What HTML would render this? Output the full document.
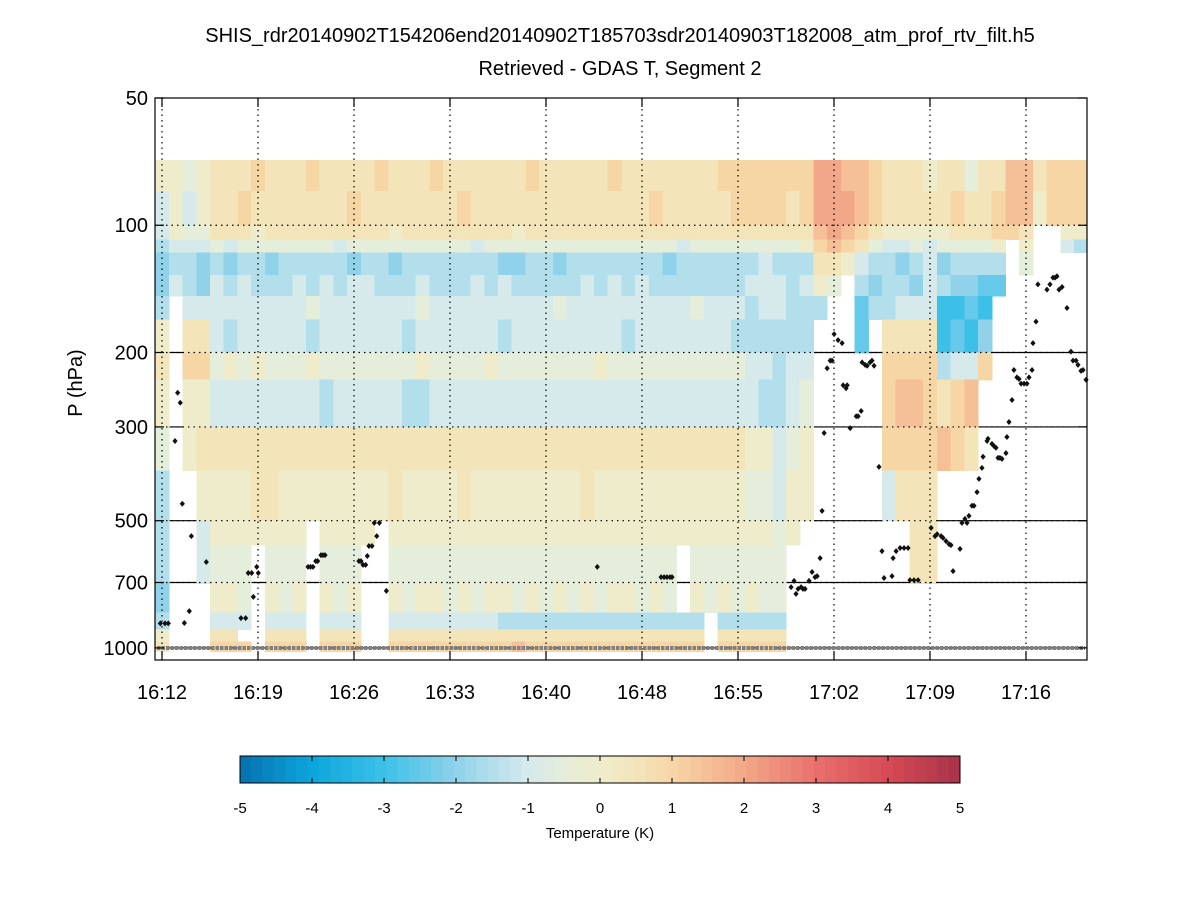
<!DOCTYPE html>
<html><head><meta charset="utf-8">
<style>
html,body{margin:0;padding:0;background:#fff;}
svg{display:block;font-family:"Liberation Sans",sans-serif;}
</style></head>
<body>
<svg id="chart" width="1200" height="900" viewBox="0 0 1200 900" xmlns="http://www.w3.org/2000/svg">
<rect width="1200" height="900" fill="#fff"/>
<text x="620" y="42" font-size="20" text-anchor="middle">SHIS_rdr20140902T154206end20140902T185703sdr20140903T182008_atm_prof_rtv_filt.h5</text>
<text x="620" y="75" font-size="20" text-anchor="middle">Retrieved - GDAS T, Segment 2</text>
<text x="0" y="0" font-size="20" text-anchor="middle" transform="translate(82,383) rotate(-90)">P (hPa)</text>
<g id="solidGrid"></g>
<g id="heat" shape-rendering="crispEdges"></g>
<g id="dotGrid"></g>
<g id="marks"></g>
<g id="axes"></g>
<g id="cbar"></g>
<text x="600" y="838" font-size="15" text-anchor="middle">Temperature (K)</text>
</svg>
<script>
// ---- data ----
const pressureEdges = [70,83,100,108,116,131,147,167,200,232,300,380,500,570,700,825,905,965,1020];
const yTickValues = [50,100,200,300,500,700,1000];
const yTickLabels = ["50","100","200","300","500","700","1000"];
const xTickMinutes = [0,7,14,21,28,35,42,49,56,63];
const xTickLabels = ["16:12","16:19","16:26","16:33","16:40","16:48","16:55","17:02","17:09","17:16"];
// temperature difference grid: one string per pressure layer, one char per minute column (0..67)
// code: '0'=-5 ... 'A'=0 ... 'K'=+5 in 0.5 K steps, '.' = no data
const tempRows = [
 "AA9A"+"BBBCBBBCBBBBCBBBCBBBBBBCBBBBBCBBBBBBBCCCCC"+"CCEEDDCBBBABB9BBDDBCCC",
 "8A8A"+"BBCBBBBBBBCBBBBBBBCBBBBBBBBBBBBBCBBBBBCCCC"+"BCEEEDCBBBBBCBBCDDACCC",
 "8A99"+"BBBABBBBBBBBBABBBBBBBBABBBBBBBBBBBBBBBBBBB"+"BBDEDCBAAAAABBBCCB..AA",
 "7888"+"989999999899999999989999999999999989999999"+"9ACDCB988989999A.A..87",
 "6776"+"767767777767767777777667767777777677777787"+"77BBA87767867777.9....",
 "6876"+"878777878788777877787877777878787777777888"+"78A9.76776876655......",
 "7.88"+"888888898888888988888888898888888889888788"+"777..5778884454.......",
 "A.BB"+"878888878888887888888788888888788888887777"+"77...5.BBBB4546.......",
 "B.CC"+"9A9A999A9999999A9999A9999999A9999999999887"+"88.....CCCC788C.......",
 "A.AA"+"888888887888887788888888888888888888888877"+"89.....CDDCBCD........",
 "9.AB"+"BBBBBBBBBBBBBBBBBBBBBBBBBBBBBBBBBBBBBBBAA8"+"9A.....CCCCDCB........",
 "7..A"+"AAABBAAAAAAAABAAAABAAAAAAAABAAAAAAAAAAA998"+"AA.....8BBB...........",
 "7..8"+"AAAAAAA.AAAA.AAAAAAAAAAAAAAAAAAAAAAAAAAAA9"+"A........BB...........",
 "7..8"+"999.999.999..999999999999999999999.9999999"+".........BB...........",
 "6..."+"AA9.A9A.A9A..A9AA9A9AA9A9A9A9AA9A9.A9A9A99"+"......................",
 "7..."+"888.888.888..88888888777777777777777.7777777".slice(0,42)+"......................",
 "A..."+"BB..BBB.BBB..BBBBBBBBBBBBBBBBBBBBBBB.BBBBBB".slice(0,42)+"......................",
 "B..."+"CCC.CCC.CCC..CCCCCCCCCDCCCCCCCCCCCCC.CCCCCD".slice(0,42)+"......................"
];
// cloud-top markers (minutes after 16:12, pressure hPa)
const cloudTopMin = [-0.12,0.22,0.46,0.95,1.14,1.33,1.48,1.63,1.99,2.14,3.23,5.76,6.10,6.29,6.54,6.66,6.91,7.02,10.65,10.83,11.01,11.21,11.35,11.59,11.74,11.89,14.36,14.51,14.66,14.85,14.97,15.09,15.31,15.48,15.66,15.85,16.36,31.74,36.39,36.61,36.82,37.04,37.19,45.87,46.09,46.23,46.38,46.60,46.74,46.89,47.18,47.40,47.62,47.77,47.99,48.13,48.28,48.50,48.72,48.86,49.01,49.30,49.59,49.67,49.88,49.96,50.18,50.62,50.76,50.98,51.05,51.27,51.42,51.63,51.77,51.92,52.28,52.50,52.65,53.23,53.31,53.53,53.82,54.11,54.40,54.54,54.83,55.13,56.08,56.37,56.52,56.81,56.95,57.17,57.39,57.53,57.68,58.19,58.33,58.55,58.70,58.84,59.06,59.21,59.43,59.57,59.79,59.87,60.16,60.23,60.52,60.67,60.81,60.96,61.10,61.25,61.54,61.61,61.76,61.98,62.12,62.34,62.49,62.64,62.86,63.07,63.22,63.44,63.51,63.73,63.87,64.53,64.75,64.97,65.12,65.26,65.41,65.63,65.99,66.28,66.43,66.65,66.79,67.01,67.16,67.38];
const cloudTopP = [875,875,875,324,249,263,456,873,818,544,626,850,850,665,665,757,643,665,643,643,643,623,623,603,603,603,623,623,636,636,606,574,574,506,544,506,733,643,680,680,680,680,680,718,694,745,725,718,725,725,694,661,680,676,613,474,310,218,209,209,181,187,190,239,243,239,302,283,283,275,211,214,215,211,209,215,373,590,683,676,613,590,580,580,580,691,691,691,520,544,538,544,549,559,568,571,658,583,506,495,506,487,461,461,428,398,375,353,324,320,329,333,336,355,355,357,346,317,292,259,220,229,231,237,237,237,229,220,190,169,138,142,138,133,133,132,142,140,157,199,209,209,214,221,220,232];
// surface (gray) marker spans: start/end minutes at 1000 hPa
const surfaceStart = [-0.4];
const surfaceEnd = [67.4];
const surfaceP = [1000];
const cbarTicks = [-5,-4,-3,-2,-1,0,1,2,3,4,5];

// ---- scales ----
const X0=155, X1=1087, Y0=98, Y1=660;
function xS(m){ return 162 + m*13.714; }
function yS(p){ return 98 + 422.7*Math.log10(p/50); }
const NS="http://www.w3.org/2000/svg";
function mk(tag, attrs, parent){ const e=document.createElementNS(NS,tag); for(const k in attrs) e.setAttribute(k,attrs[k]); parent.appendChild(e); return e; }
const stops=[[-5,[5,113,176]],[-4,[12,166,220]],[-3,[60,192,232]],[-2,[143,210,234]],[-1,[214,234,236]],[-0.4,[232,237,216]],[0,[239,236,204]],[0.5,[243,228,186]],[1,[247,214,166]],[2,[242,168,136]],[3,[232,112,108]],[4,[214,74,85]],[5,[168,51,74]]];
function cmap(v){
  if(v<=stops[0][0]) return "rgb("+stops[0][1]+")";
  for(let i=1;i<stops.length;i++){ if(v<=stops[i][0]){ const a=stops[i-1],b=stops[i]; const t=(v-a[0])/(b[0]-a[0]); const c=a[1].map((q,j)=>Math.round(q+(b[1][j]-q)*t)); return "rgb("+c.join(",")+")"; } }
  return "rgb("+stops[stops.length-1][1]+")";
}
const codes="0123456789ABCDEFGHIJK";

// solid grid (under)
const sg=document.getElementById('solidGrid');
yTickValues.forEach((p,i)=>{ if(i===0) return; const y=yS(p);
  const l=mk('line',{x1:X0,x2:X1,y1:y,y2:y,stroke:'#000','stroke-width':1.2},sg);
  
  
});

// heatmap
const hg=document.getElementById('heat');
tempRows.forEach((row,r)=>{
  const ya=yS(pressureEdges[r]), yb=yS(pressureEdges[r+1]);
  for(let c=0;c<row.length;c++){
    const ch=row[c]; if(ch==='.') continue;
    const v=(codes.indexOf(ch)-10)*0.5;
    const xa=Math.max(X0,xS(c-0.5)), xb=Math.min(X1,xS(c+0.5));
    const rc=mk('rect',{x:xa,y:ya,width:xb-xa+0.6,height:yb-ya+0.6,fill:cmap(v)},hg);
    
    
  }
});

// dotted grid (over)
const dg=document.getElementById('dotGrid');
yTickValues.forEach((p,i)=>{ if(i===0) return; const y=yS(p);
  const l=mk('line',{x1:X0,x2:X1,y1:y,y2:y,stroke:'#000','stroke-width':1.2,'stroke-dasharray':'1.5 4'},dg);
  
  
});
xTickMinutes.forEach((m,i)=>{ const x=xS(m);
  const l=mk('line',{x1:x,x2:x,y1:Y0,y2:Y1,stroke:'#000','stroke-width':1.2,'stroke-dasharray':'1.5 4'},dg);
  
  
});

// markers
const mg=document.getElementById('marks');
surfaceStart.forEach((s,i)=>{
  const y=yS(surfaceP[i]);
  const l=mk('line',{x1:Math.max(X0+2,xS(s)),x2:Math.min(X1-2,xS(surfaceEnd[i])),y1:y,y2:y,stroke:'#808080','stroke-width':4,'stroke-dasharray':'3.5 1'},mg);
  
  
});
cloudTopMin.forEach((m,i)=>{
  const x=xS(m), y=yS(cloudTopP[i]);
  const d=mk('path',{d:`M${x} ${y-3}L${x+2.6} ${y}L${x} ${y+3}L${x-2.6} ${y}Z`,fill:'#111'},mg);
  
  
});

// axes
const ag=document.getElementById('axes');
const box=mk('rect',{x:X0,y:Y0,width:X1-X0,height:Y1-Y0,fill:'none',stroke:'#000','stroke-width':1.2},ag);


yTickValues.forEach((p,i)=>{ const y=yS(p);
  mk('line',{x1:X0,x2:X0+9,y1:y,y2:y,stroke:'#000','stroke-width':1.2},ag);
  mk('line',{x1:X1-9,x2:X1,y1:y,y2:y,stroke:'#000','stroke-width':1.2},ag);
  const t=mk('text',{x:148,y:y+7,'font-size':20,'text-anchor':'end'},ag);
  t.textContent=yTickLabels[i];
  
  
});
xTickMinutes.forEach((m,i)=>{ const x=xS(m);
  mk('line',{x1:x,x2:x,y1:Y1,y2:Y1-9,stroke:'#000','stroke-width':1.2},ag);
  mk('line',{x1:x,x2:x,y1:Y0,y2:Y0+9,stroke:'#000','stroke-width':1.2},ag);
  const t=mk('text',{x:x,y:699,'font-size':20,'text-anchor':'middle'},ag);
  t.textContent=xTickLabels[i];
  
  
});

// colorbar
const cg=document.getElementById('cbar');
const CX0=240,CX1=960,CY0=756,CY1=783, N=64;
for(let k=0;k<N;k++){
  const v=-5+(k+0.5)*10/N;
  const xa=CX0+k*(CX1-CX0)/N;
  const r=mk('rect',{x:xa,y:CY0,width:(CX1-CX0)/N+0.5,height:CY1-CY0,fill:cmap(v)},cg);
  
  
}
const cf=mk('rect',{x:CX0,y:CY0,width:CX1-CX0,height:CY1-CY0,fill:'none',stroke:'#000','stroke-width':1},cg);


cbarTicks.forEach(v=>{
  const x=CX0+(v+5)/10*(CX1-CX0);
  mk('line',{x1:x,x2:x,y1:CY0,y2:CY0+5,stroke:'#000','stroke-width':1},cg);
  mk('line',{x1:x,x2:x,y1:CY1,y2:CY1-5,stroke:'#000','stroke-width':1},cg);
  const t=mk('text',{x:x,y:813,'font-size':15,'text-anchor':'middle'},cg);
  t.textContent=String(v);
  
  
});
</script>
</body></html>
